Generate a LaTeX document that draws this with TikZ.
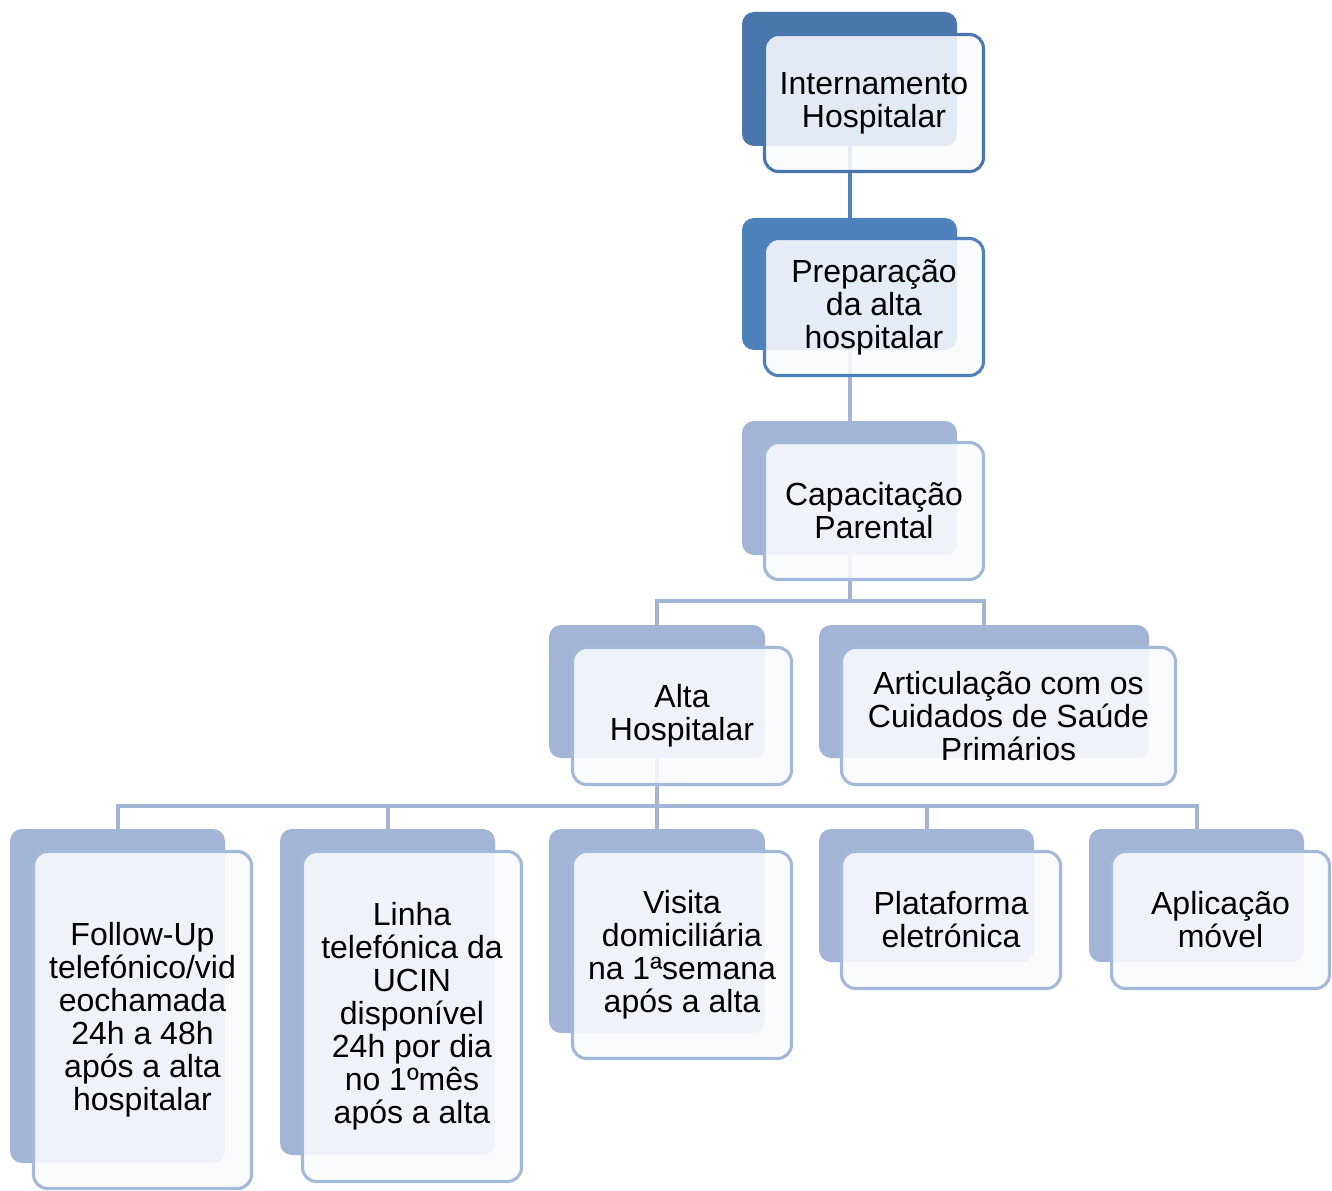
\documentclass[tikz,border=0pt]{standalone}
\usepackage{fontspec}
\setmainfont{Liberation Sans}
\definecolor{darkA}{HTML}{4A76AE}
\definecolor{darkB}{HTML}{4F81BD}
\definecolor{lightB}{HTML}{A2B5D6}
\definecolor{lightE}{HTML}{A4B8D9}
\definecolor{frontfill}{HTML}{FAFBFD}
\tikzset{
  backbox/.style n args={3}{draw=none, fill=#3, rounded corners=9pt,
     minimum width=#1*0.75pt, minimum height=#2*0.75pt, inner sep=0pt},
  frontbox/.style n args={3}{draw=#3, line width=2.3pt, fill=frontfill, fill opacity=0.88,
     text opacity=1, rounded corners=10.5pt, minimum width=#1*0.75pt,
     minimum height=#2*0.75pt, inner sep=0pt, align=center,
     font=\fontsize{24pt}{24.75pt}\selectfont},
  conn/.style={draw=#1, line width=3pt},
  conn/.default=lightB
}
\begin{document}
\begin{tikzpicture}[x=0.75pt,y=-0.75pt]
\useasboundingbox[fill=white] (0,0) rectangle (1332,1191);
% back boxes
\node[backbox={215}{134}{darkA}] (b1) at (849.5,79) {};
\node[backbox={215}{132}{darkB}] (b2) at (849.5,284) {};
\node[backbox={215}{134}{lightB}] (b3) at (849.5,488) {};
\node[backbox={216}{133}{lightB}] (b4) at (657,691.5) {};
\node[backbox={330}{133}{lightB}] (b5) at (984,691.5) {};
\node[backbox={215}{334}{lightB}] (b6) at (117.5,996) {};
\node[backbox={215}{326}{lightB}] (b7) at (387.5,992) {};
\node[backbox={216}{204}{lightB}] (b8) at (657,931) {};
\node[backbox={215}{133}{lightB}] (b9) at (926.5,895.5) {};
\node[backbox={215}{133}{lightB}] (b10) at (1196.5,895.5) {};
% connectors
\draw[conn=darkB] (b1.south) -- (b2.north);
\draw[conn] (b2.south) -- (b3.north);
\coordinate (j1) at (849.5,601);
\draw[conn] (b3.south) -- (j1);
\draw[conn] (b4.north) |- (j1) -| (b5.north);
\coordinate (j2) at (657,806);
\draw[conn] (b4.south) -- (j2);
\draw[conn] (b6.north) |- (j2) -| (b10.north);
\draw[conn] (b7.north) -- (b7.north |- j2);
\draw[conn] (b8.north) -- (b8.north |- j2);
\draw[conn] (b9.north) -- (b9.north |- j2);
% front boxes
\node[frontbox={219}{137}{darkA}] (f1) at (874,103) {Internamento\\Hospitalar};
\node[frontbox={219}{137}{darkB}] (f2) at (874,307) {Preparação\\da alta\\hospitalar};
\node[frontbox={219}{137}{lightE}] (f3) at (874,511) {Capacitação\\Parental};
\node[frontbox={219}{137}{lightE}] (f4) at (682,716) {Alta\\Hospitalar};
\node[frontbox={334}{137}{lightE}] (f5) at (1008.5,716) {Articulação com os\\Cuidados de Saúde\\Primários};
\node[frontbox={218}{337}{lightE}] (f6) at (142.5,1020) {Follow-Up\\telefónico/vid\\eochamada\\24h a 48h\\após a alta\\hospitalar};
\node[frontbox={219}{330}{lightE}] (f7) at (412,1016.5) {Linha\\telefónica da\\UCIN\\disponível\\24h por dia\\no 1ºmês\\após a alta};
\node[frontbox={219}{207}{lightE}] (f8) at (682,955) {Visita\\domiciliária\\na 1ªsemana\\após a alta};
\node[frontbox={219}{137}{lightE}] (f9) at (951,920) {Plataforma\\eletrónica};
\node[frontbox={218}{137}{lightE}] (f10) at (1220.5,920) {Aplicação\\móvel};
\end{tikzpicture}
\end{document}
